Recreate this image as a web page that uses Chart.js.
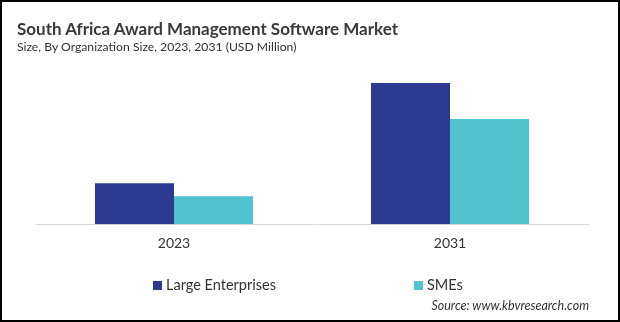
<!DOCTYPE html>
<html>
<head>
<meta charset="utf-8">
<script src="https://cdn.jsdelivr.net/npm/chart.js@4"></script>
<style>
  html, body { margin: 0; padding: 0; background: #fff; }
  #frame {
    position: relative; width: 616px; height: 318px;
    border: 2px solid #000; overflow: hidden; font-family: Lato, sans-serif; color: #333;
  }
  #title { position: absolute; left: 15px; top: 16px; font-size: 17px; font-weight: bold; color: #3a3a3a; white-space: nowrap; }
  #subtitle { position: absolute; left: 15px; top: 37px; font-size: 12.2px; color: #333; white-space: nowrap; }
  #chartBox { position: absolute; left: -2px; top: -2px; width: 620px; height: 322px; }
  .leg { position: absolute; top: 274px; font-size: 14.5px; color: #333; white-space: nowrap; }
  .leg i { display: inline-block; width: 9px; height: 9px; margin-right: 4px; vertical-align: 0px; }
  #source { position: absolute; right: 29px; top: 296px; font-size: 12.5px; font-style: italic; color: #333; }
</style>
</head>
<body>
<div id="frame">
  <div id="chartBox"><canvas id="marketChart"></canvas></div>
  <div id="title">South Africa Award Management Software Market</div>
  <div id="subtitle">Size, By Organization Size, 2023, 2031 (USD Million)</div>
  <div class="leg" style="left:151px"><i style="background:#2c3a8f"></i>Large Enterprises</div>
  <div class="leg" style="left:412px"><i style="background:#51c3ce"></i>SMEs</div>
  <div id="source">Source: www.kbvresearch.com</div>
</div>
<script>
// Dados do gráfico (valores estimados a partir da imagem)
const years = ['2023', '2031'];
const largeEnterprises = [4.1, 14.1];
const smes = [2.8, 10.5];

const ctx = document.getElementById('marketChart').getContext('2d');
var chart = new Chart(ctx, {
  type: 'bar',
  data: {
    labels: years,
    datasets: [{
      label: 'Large Enterprises',
      data: largeEnterprises,
      backgroundColor: '#2c3a8f'
    }, {
      label: 'SMEs',
      data: smes,
      backgroundColor: '#51c3ce'
    }]
  },
  options: {
    responsive: true,
    maintainAspectRatio: false,
    animation: false,
    layout: { padding: { left: 36, right: 32, top: 70, bottom: 67 } },
    datasets: { bar: { categoryPercentage: 0.5725, barPercentage: 1 } },
    plugins: { legend: { display: false }, tooltip: { enabled: false } },
    scales: {
      x: {
        grid: { display: false },
        border: { color: '#d9d9d9', width: 1 },
        ticks: { color: '#333', font: { family: 'Lato', size: 14 }, padding: 3 }
      },
      y: { display: false, min: 0, max: 15.4 }
    }
  }
});
</script>
</body>
</html>
